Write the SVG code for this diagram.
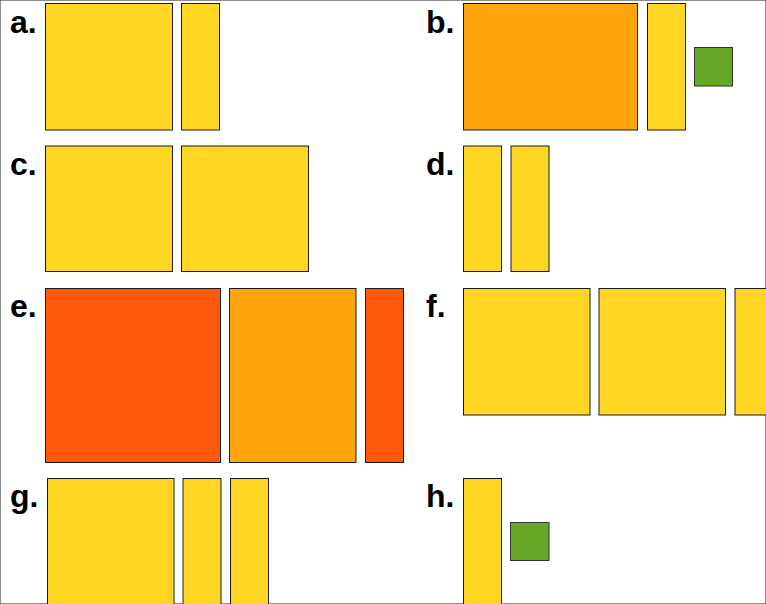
<svg xmlns="http://www.w3.org/2000/svg" width="766" height="604" viewBox="0 0 766 604">
<style>
.lbl{font-family:"Liberation Sans",Arial,sans-serif;font-weight:bold;font-size:32px;fill:#000}
rect{stroke:#1a1a1a;stroke-width:1}
.y{fill:#FFD624}
.o{fill:#FFA40A}
.r{fill:#FF5A0A}
.g{fill:#66A825;stroke:#333}
</style>
<rect x="0" y="0" width="766" height="604" fill="#fff" stroke="none"/>
<g id="panel-a">
<text class="lbl" x="10" y="33">a.</text>
<rect class="y" x="45.5" y="3.5" width="127" height="126.5"/>
<rect class="y" x="181.5" y="3.5" width="38" height="126.5"/>
</g>
<g id="panel-b">
<text class="lbl" x="426" y="33">b.</text>
<rect class="o" x="463.5" y="3.5" width="174" height="126.5"/>
<rect class="y" x="647.5" y="3.5" width="38" height="126.5"/>
<rect class="g" x="694.5" y="47.5" width="38" height="38.5"/>
</g>
<g id="panel-c">
<text class="lbl" x="10" y="175">c.</text>
<rect class="y" x="45.5" y="146" width="127" height="125.5"/>
<rect class="y" x="181.5" y="146" width="127" height="125.5"/>
</g>
<g id="panel-d">
<text class="lbl" x="426" y="175">d.</text>
<rect class="y" x="463.5" y="146" width="38" height="125.5"/>
<rect class="y" x="511" y="146" width="38" height="125.5"/>
</g>
<g id="panel-e">
<text class="lbl" x="10" y="317">e.</text>
<rect class="r" x="45.5" y="288.5" width="175" height="174"/>
<rect class="o" x="229.5" y="288.5" width="126.5" height="174"/>
<rect class="r" x="365.5" y="288.5" width="38" height="174"/>
</g>
<g id="panel-f">
<text class="lbl" x="426" y="317">f.</text>
<rect class="y" x="463.5" y="288.5" width="126.5" height="126.5"/>
<rect class="y" x="599" y="288.5" width="126.5" height="126.5"/>
<rect class="y" x="735" y="288.5" width="60" height="126.5"/>
</g>
<g id="panel-g">
<text class="lbl" x="10" y="507">g.</text>
<rect class="y" x="47.5" y="478.5" width="126.5" height="140"/>
<rect class="y" x="183" y="478.5" width="38" height="140"/>
<rect class="y" x="230.5" y="478.5" width="38" height="140"/>
</g>
<g id="panel-h">
<text class="lbl" x="426" y="507">h.</text>
<rect class="y" x="463.5" y="478.5" width="38" height="140"/>
<rect class="g" x="510.5" y="522.5" width="38.5" height="38"/>
</g>
</svg>
